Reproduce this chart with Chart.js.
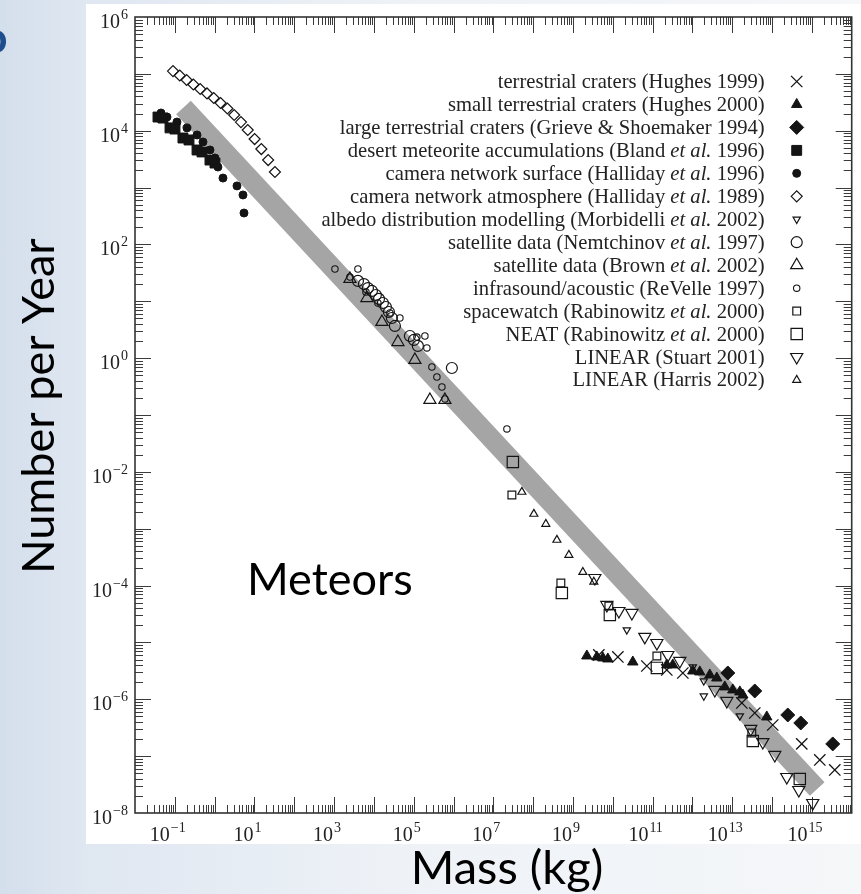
<!DOCTYPE html>
<html><head><meta charset="utf-8">
<script src="https://cdn.jsdelivr.net/npm/chart.js@4"></script>
<style>
html,body{margin:0;padding:0}
body{width:861px;height:894px;position:relative;overflow:hidden;background:linear-gradient(90deg,#d4dfec 0px,#dfe7f1 86px,#eef2f7 400px,#f5f7f9 861px)}
#paper{position:absolute;left:86px;top:4px;width:775px;height:840px;background:#fff}
#c{position:absolute;left:0;top:0}
</style></head><body>
<div id="paper"></div>
<canvas id="c" width="861" height="894"></canvas>
<script>
// ---- tick labels (powers of ten) ----
const xTickExponents = [-1, 1, 3, 5, 7, 9, 11, 13, 15];
const yTickExponents = [6, 4, 2, 0, -2, -4, -6, -8];
const xRange = [1e-2, 1e16];
const yRange = [1e-8, 1e6];

// ---- series (mass in kg, number per year) ----
const hughes1999Mass = [4.46e9, 1.34e10, 7.16e10, 2.27e11, 5.74e11, 1.74e13, 3.68e13, 1.04e14, 5.57e14, 1.58e15, 3.76e15];
const hughes1999Rate = [6.02e-6, 5.55e-6, 3.85e-6, 3.28e-6, 2.90e-6, 8.61e-7, 5.74e-7, 3.53e-7, 1.64e-7, 8.57e-8, 5.72e-8];

const hughes2000Mass = [2.23e9, 3.97e9, 5.62e9, 7.51e9, 3.18e10, 2.27e11, 3.21e11, 1.02e12, 1.53e12, 2.73e12, 4.09e12, 6.50e12, 1.03e13, 1.55e13, 1.84e13, 7.36e13];
const hughes2000Rate = [5.78e-6, 5.55e-6, 5.33e-6, 5.12e-6, 4.53e-6, 4.02e-6, 4.02e-6, 3.15e-6, 3.03e-6, 2.68e-6, 2.37e-6, 1.65e-6, 1.46e-6, 1.35e-6, 1.19e-6, 4.89e-7];

const grieve1994Mass = [7.73e12, 3.68e13, 2.48e14, 5.26e14, 3.34e15];
const grieve1994Rate = [2.90e-6, 1.40e-6, 5.30e-7, 3.83e-7, 1.64e-7];

const bland1996Mass = [0.0378, 0.0504, 0.0757, 0.101, 0.160, 0.227, 0.361, 0.481, 0.764, 1.02];
const bland1996Rate = [17400, 16700, 11200, 10700, 7440, 6870, 4580, 4230, 3050, 2700];

const halliday1996Mass = [0.045, 0.0636, 0.113, 0.202, 0.361, 0.510, 0.764, 1.02, 1.21, 1.62, 3.64, 5.15, 5.46];
const halliday1996Rate = [20500, 17400, 14200, 11200, 8410, 6340, 4580, 3310, 2300, 1470, 1070, 741, 357];

const halliday1989Mass = [0.090, 0.133, 0.198, 0.292, 0.434, 0.643, 0.95, 1.41, 2.09, 3.10, 4.58, 6.79, 10.1, 14.9, 22.1, 32.7];
const halliday1989Rate = [112000, 93500, 78000, 65000, 54200, 45200, 37600, 30700, 24600, 18900, 14200, 10300, 7140, 4760, 3050, 1880];

const morbidelli2002Mass = [2.25e10, 1.02e12, 1.93e12, 1.93e12, 1.55e13];
const morbidelli2002Rate = [1.66e-5, 3.70e-6, 2.10e-6, 1.14e-6, 5.09e-7];

const nemtchinov1997Mass = [3970, 5620, 7080, 8920, 11200, 13400, 16800, 20000, 23800, 28300, 33700, 80200, 101000, 127000, 909000];
const nemtchinov1997Rate = [22.8, 20.1, 17.1, 15.2, 12.9, 11.0, 9.33, 7.94, 6.48, 5.08, 3.68, 2.45, 2.09, 1.64, 0.671];

const brown2002Mass = [2500, 6680, 15900, 40100, 107000, 255000, 607000];
const brown2002Rate = [24.7, 11.4, 4.33, 1.92, 0.929, 0.184, 0.184];

const revelle1997Mass = [1050, 2500, 3970, 6310, 12600, 25200, 45000, 120000, 191000, 214000, 286000, 382000, 511000, 607000, 2.19e7];
const revelle1997Rate = [37.0, 26.7, 37.0, 14.6, 9.33, 6.22, 5.08, 2.35, 2.45, 1.51, 0.698, 0.466, 0.311, 0.191, 0.0568];

const spacewatch2000Mass = [2.92e7, 4.96e8, 7.96e9, 1.28e11, 3.10e13];
const spacewatch2000Rate = [0.00392, 1.11e-4, 4.38e-5, 5.78e-6, 2.56e-7];

const neat2000Mass = [3.09e7, 5.25e8, 8.43e9, 1.28e11, 3.28e13, 4.97e14];
const neat2000Rate = [0.0149, 7.41e-5, 3.04e-5, 3.56e-6, 1.85e-7, 3.97e-8];

const stuart2001Mass = [3.54e9, 7.08e9, 1.42e10, 3.01e10, 6.37e10, 1.28e11, 2.41e11, 4.82e11, 3.65e12, 7.30e12, 2.92e13, 5.85e13, 1.17e14, 2.34e14, 4.69e14, 1.05e15];
const stuart2001Rate = [1.36e-4, 4.56e-5, 3.57e-5, 3.30e-5, 1.25e-5, 9.78e-6, 6.01e-6, 4.72e-6, 1.46e-6, 9.34e-7, 3.01e-7, 1.77e-7, 1.05e-7, 4.30e-8, 2.54e-8, 1.50e-8];

const harris2002Mass = [5.2e7, 1.04e8, 2.08e8, 3.94e8, 7.88e8, 1.77e9, 3.34e9];
const harris2002Rate = [0.00443, 0.00182, 0.00121, 6.34e-4, 3.45e-4, 1.73e-4, 1.16e-4];

// grey power-law band (end points)
const bandMass = [0.165, 1.36e15];
const bandRate = [25600, 2.65e-8];

// ---- build datasets ----
const pts = (m, r) => m.map((v, i) => ({x: v, y: r[i]}));
const INK = '#141414', OPEN = 'rgba(0,0,0,0)';
function series(label, m, r, style, radius, filled, rot, bw) {
  return {
    label, data: pts(m, r), pointStyle: style, pointRadius: radius,
    pointRotation: rot || 0, pointBorderWidth: bw || 1.2,
    pointBackgroundColor: filled ? INK : OPEN, pointBorderColor: INK,
    backgroundColor: filled ? INK : OPEN, borderColor: INK, showLine: false, order: 0
  };
}
const datasets = [
  series('terrestrial craters (Hughes 1999)', hughes1999Mass, hughes1999Rate, 'crossRot', 8, false, 0, 1.3),
  series('small terrestrial craters (Hughes 2000)', hughes2000Mass, hughes2000Rate, 'triangle', 6, true, 0, 1),
  series('large terrestrial craters (Grieve & Shoemaker 1994)', grieve1994Mass, grieve1994Rate, 'rectRot', 7, true, 0, 1),
  series('desert meteorite accumulations (Bland et al. 1996)', bland1996Mass, bland1996Rate, 'rect', 7, true, 0, 1),
  series('camera network surface (Halliday et al. 1996)', halliday1996Mass, halliday1996Rate, 'circle', 4, true, 0, 1),
  series('camera network atmosphere (Halliday et al. 1989)', halliday1989Mass, halliday1989Rate, 'rectRot', 5.5, false, 0, 1.2),
  series('albedo distribution modelling (Morbidelli et al. 2002)', morbidelli2002Mass, morbidelli2002Rate, 'triangle', 4.2, false, 180, 1.2),
  series('satellite data (Nemtchinov et al. 1997)', nemtchinov1997Mass, nemtchinov1997Rate, 'circle', 5.5, false, 0, 1.2),
  series('satellite data (Brown et al. 2002)', brown2002Mass, brown2002Rate, 'triangle', 7, false, 0, 1.2),
  series('infrasound/acoustic (ReVelle 1997)', revelle1997Mass, revelle1997Rate, 'circle', 3.2, false, 0, 1.1),
  series('spacewatch (Rabinowitz et al. 2000)', spacewatch2000Mass, spacewatch2000Rate, 'rect', 5.5, false, 0, 1.2),
  series('NEAT (Rabinowitz et al. 2000)', neat2000Mass, neat2000Rate, 'rect', 8, false, 0, 1.2),
  series('LINEAR (Stuart 2001)', stuart2001Mass, stuart2001Rate, 'triangle', 7, false, 180, 1.2),
  series('LINEAR (Harris 2002)', harris2002Mass, harris2002Rate, 'triangle', 4.6, false, 0, 1.2),
  {
    label: 'band', data: pts(bandMass, bandRate), showLine: true, pointRadius: 0,
    borderColor: '#a5a5a5', borderWidth: 20, borderCapStyle: 'butt', order: 1, isBand: true
  }
];

const SERIF = '"Liberation Serif", "Times New Roman", serif';
const SANS = 'Lato, "Open Sans", sans-serif';

function powLabel(ctx, exp, anchorX, baseY, mode) {
  const base = '10', sup = exp < 0 ? '\u2212' + (-exp) : String(exp);
  ctx.font = '20px ' + SERIF; const wb = ctx.measureText(base).width;
  ctx.font = '14px ' + SERIF; const ws = ctx.measureText(sup).width;
  const tot = wb + 1 + ws;
  const left = mode === 'center' ? anchorX - tot / 2 : anchorX - tot;
  ctx.textAlign = 'left'; ctx.textBaseline = 'alphabetic';
  ctx.font = '20px ' + SERIF; ctx.fillText(base, left, baseY);
  ctx.font = '14px ' + SERIF; ctx.fillText(sup, left + wb + 1, baseY - 9);
}

const framePlugin = {
  id: 'frame',
  beforeDatasetsDraw(chart) {
    const {ctx, chartArea: a, scales: {x, y}} = chart;
    ctx.save();
    ctx.strokeStyle = '#3a3a3a'; ctx.lineWidth = 1;
    const seg = (x1, y1, x2, y2) => { ctx.beginPath(); ctx.moveTo(x1, y1); ctx.lineTo(x2, y2); ctx.stroke(); };
    for (let d = -2; d < 16; d++) for (let k = 1; k <= 9; k++) {
      const px = Math.round(x.getPixelForValue(k * Math.pow(10, d))) + 0.5;
      if (px <= a.left + 1 || px >= a.right - 1) continue;
      const len = k === 1 ? 16 : 8;
      seg(px, a.bottom, px, a.bottom - len); seg(px, a.top, px, a.top + len);
    }
    for (let d = -8; d < 6; d++) for (let k = 1; k <= 9; k++) {
      const py = Math.round(y.getPixelForValue(k * Math.pow(10, d))) + 0.5;
      if (py <= a.top + 1 || py >= a.bottom - 1) continue;
      const len = k === 1 ? 16 : 8;
      seg(a.left, py, a.left + len, py); seg(a.right, py, a.right - len, py);
    }
    ctx.lineWidth = 1.6; ctx.strokeStyle = '#333';
    ctx.strokeRect(a.left, a.top, a.right - a.left, a.bottom - a.top);
    ctx.restore();
  },
  afterDraw(chart) {
    const {ctx, chartArea: a, scales: {x, y}} = chart;
    ctx.save();
    ctx.fillStyle = '#222';
    xTickExponents.forEach(e => powLabel(ctx, e, x.getPixelForValue(Math.pow(10, e)) - 7, a.bottom + 27.5, 'center'));
    yTickExponents.forEach(e => powLabel(ctx, e, a.left - 7, y.getPixelForValue(Math.pow(10, e)) + 11, 'right'));

    // legend
    const textRight = a.right - 87, markX = a.right - 55, row0 = a.top + 64.5, rowH = 22.96;
    let i = 0;
    chart.data.datasets.forEach(ds => {
      if (ds.isBand) return;
      const cy = row0 + i * rowH; i++;
      const parts = ds.label.split(/(et al\.)/).filter(s => s.length);
      const fonts = parts.map(p => (p === 'et al.' ? 'italic ' : '') + '20.6px ' + SERIF);
      let tot = 0;
      const ws = parts.map((p, j) => { ctx.font = fonts[j]; const w = ctx.measureText(p).width; tot += w; return w; });
      let cx = textRight - tot;
      ctx.fillStyle = '#222'; ctx.textAlign = 'left'; ctx.textBaseline = 'alphabetic';
      parts.forEach((p, j) => { ctx.font = fonts[j]; ctx.fillText(p, cx, cy + 6.5); cx += ws[j]; });
      ctx.fillStyle = ds.pointBackgroundColor; ctx.strokeStyle = ds.pointBorderColor; ctx.lineWidth = ds.pointBorderWidth;
      Chart.helpers.drawPoint(ctx, {pointStyle: ds.pointStyle, rotation: ds.pointRotation, radius: ds.pointRadius, borderWidth: ds.pointBorderWidth}, markX, cy);
    });

    // annotation text inside plot
    ctx.fillStyle = '#000'; ctx.textAlign = 'left'; ctx.textBaseline = 'alphabetic';
    ctx.font = '45px ' + SANS;
    ctx.fillText('Meteors', 247, 595);

    // axis titles
    ctx.textAlign = 'center';
    ctx.font = '47px ' + SANS;
    ctx.fillText('Mass (kg)', 507, 884);
    ctx.save();
    ctx.translate(54, 406); ctx.rotate(-Math.PI / 2);
    ctx.font = '45px ' + SANS;
    ctx.fillText('Number per Year', 0, 0);
    ctx.restore();

    // clipped slide title fragment at the left edge
    ctx.fillStyle = '#1f4e8c'; ctx.font = 'bold 44px ' + SANS; ctx.textAlign = 'center';
    ctx.fillText('o', -5, 53);
    ctx.restore();
  }
};

new Chart(document.getElementById('c'), {
  type: 'scatter',
  data: {datasets},
  options: {
    responsive: false, animation: false, devicePixelRatio: 1,
    layout: {padding: {left: 135, top: 17, right: 9, bottom: 81}},
    scales: {
      x: {type: 'logarithmic', min: xRange[0], max: xRange[1], display: false},
      y: {type: 'logarithmic', min: yRange[0], max: yRange[1], display: false}
    },
    plugins: {legend: {display: false}, tooltip: {enabled: false}}
  },
  plugins: [framePlugin]
});
</script></body></html>
